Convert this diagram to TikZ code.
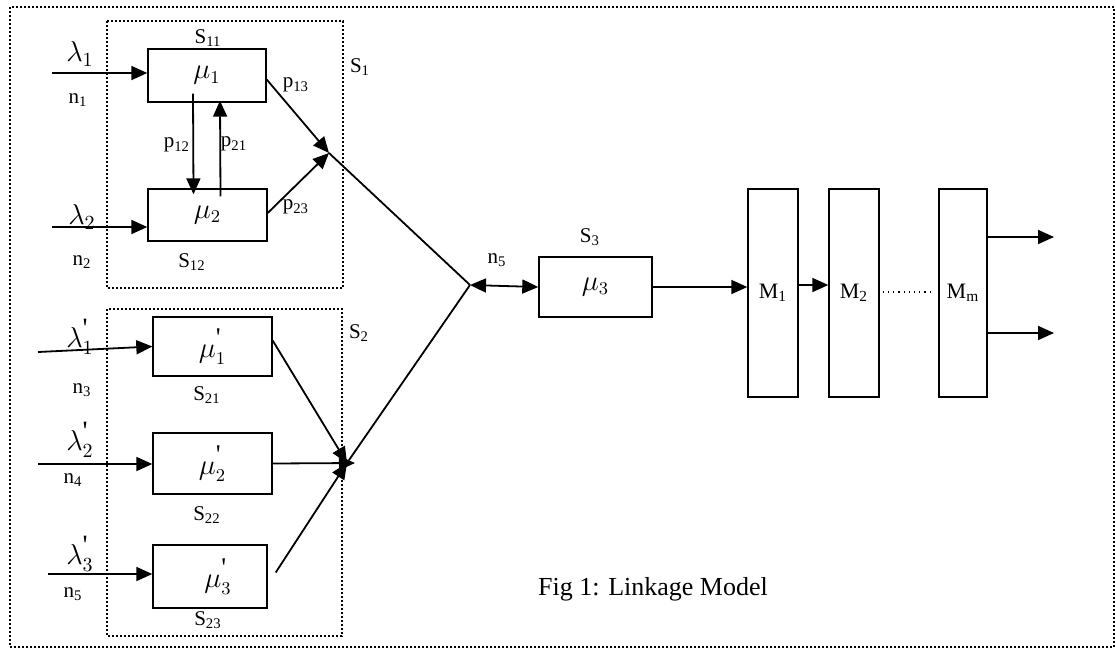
\documentclass[tikz,border=0pt]{standalone}
\usepackage{fontspec}
\setmainfont{Liberation Serif}
\usetikzlibrary{arrows.meta}

\newcommand{\tick}{^{\textrm{\textquotesingle}}}

\begin{document}
\begin{tikzpicture}[x=0.5pt, y=-0.5pt, font=\fontsize{10.5}{12}\selectfont,
  station/.style={draw, line width=0.7pt, inner sep=0pt, font=\fontsize{13.5}{15}\selectfont},
  machine/.style={draw, line width=0.7pt, inner sep=0pt, minimum width=25pt, minimum height=104pt, font=\fontsize{11}{12}\selectfont},
  region/.style={line width=1.2pt, dash pattern=on 1pt off 1pt},
  tip/.tip={Triangle[length=8pt, width=7pt]},
  flow/.style={line width=0.9pt, -{tip}},
  link/.style={line width=0.9pt},
  rate/.style={font=\fontsize{14}{15}\selectfont}]

\useasboundingbox (0,0) rectangle (1116,650);

% the plant and its two sub-systems
\draw[region] (10,7) rectangle (1114,647);
\draw[region] (107,21) rectangle (343,288);
\draw[region] (107,309) rectangle (342,636);

\node[anchor=west] (lS1) at (343,67)  {S\textsubscript{1}};
\node[anchor=west] (lS2) at (342,333) {S\textsubscript{2}};

% stations
\node[station, minimum width=59pt, minimum height=26.5pt] (s11) at (207,75.5)  {$\mu_1$};
\node[station, minimum width=59.5pt, minimum height=26pt] (s12) at (207.5,215) {$\mu_2$};
\node[station, minimum width=59.5pt, minimum height=29.5pt] (s21) at (212.5,346.5) {$\mu\tick_1$};
\node[station, minimum width=59.5pt, minimum height=30.5pt] (s22) at (212.5,463.5) {$\mu\tick_2$};
\node[station, minimum width=57pt, minimum height=31.5pt] (s23) at (210,576.5) {\hspace{8pt}$\mu\tick_3$};
\node[station, minimum width=56.5pt, minimum height=30pt] (mu3) at (595.5,287) {$\mu_3$};

\node (lS11) at (208,38)  {S\textsubscript{11}};
\node (lS12) at (192,262) {S\textsubscript{12}};
\node (lS21) at (207,395) {S\textsubscript{21}};
\node (lS22) at (207,515) {S\textsubscript{22}};
\node (lS23) at (208,620) {S\textsubscript{23}};
\node (lS3)  at (590,237) {S\textsubscript{3}};

% machines
\node[machine] (m1) at (773,293) {M\textsubscript{1}};
\node[machine] (m2) at (854,293) {M\textsubscript{2}};
\node[machine, minimum width=24pt] (mm) at (963,293) {M\textsubscript{m}};

% arrivals
\coordinate (in1) at (52,73);
\coordinate (in2) at (52,227);
\coordinate (in3) at (38,352);
\coordinate (in4) at (38,464);
\coordinate (in5) at (48,574);

\node[rate] (l1) at (80,54)  {$\lambda_1$};
\node[rate] (l2) at (82,217) {$\lambda_2$};
\node[rate] (l3) at (80,337) {$\lambda\tick_1$};
\node[rate] (l4) at (80,440) {$\lambda\tick_2$};
\node[rate] (l5) at (80,554) {$\lambda\tick_3$};

\node (n1) at (78,100) {n\textsubscript{1}};
\node (n2) at (82,262) {n\textsubscript{2}};
\node (n3) at (82,390) {n\textsubscript{3}};
\node (n4) at (73,480) {n\textsubscript{4}};
\node (n5) at (73,594) {n\textsubscript{5}};

\draw[flow] (in1) -- (in1 -| s11.west);
\draw[flow] (in2) -- (in2 -| s12.west);
\draw[flow] (in3) -- (s21.west);
\draw[flow] (in4) -- (in4 -| s22.west);
\draw[flow] (in5) -- (in5 -| s23.west);

% routing inside S1
\draw[flow] ([xshift=-7pt, yshift=4.5pt]s11.south) -- ([xshift=-7pt, yshift=-3pt]s12.north);
\draw[flow] ([xshift=6.5pt, yshift=-4pt]s12.north) -- ([xshift=6.5pt, yshift=1pt]s11.south);

\node (p12) at (177,145) {p\textsubscript{12}};
\node (p21) at (234,144) {p\textsubscript{21}};
\node (p13) at (296,85)  {p\textsubscript{13}};
\node (p23) at (296,207) {p\textsubscript{23}};

\coordinate (j1) at (329,153);
\coordinate (j2) at (347,463);
\coordinate (j)  at (470,285);

\draw[flow] ([yshift=-2pt]s11.east) -- (j1);
\draw[flow] ([yshift=1pt]s12.east) -- (j1);
\draw[link] (j1) -- (j);

% merging S2
\draw[flow] ([yshift=3pt]s21.east) -- (j2);
\draw[flow] (s22.east) -- ([xshift=4pt]j2);
\draw[flow] ([xshift=4pt, yshift=2pt]s23.east) -- (j2);
\draw[link] (j2) -- (j);

\node (ln5) at (497,260) {n\textsubscript{5}};
\draw[line width=0.9pt, {tip}-{tip}] (j) -- (mu3.west);

% line of machines
\draw[flow] (mu3.east) -- (mu3.east -| m1.west);
\draw[flow] ([yshift=4pt]m1.east) -- ([yshift=4pt]m2.west);
\draw[dotted, line width=0.6pt] ([xshift=1.5pt, yshift=0.5pt]m2.east) -- ([xshift=-3.5pt, yshift=0.5pt]mm.west);

\coordinate (out1) at (1054,237);
\coordinate (out2) at (1054,333);
\draw[flow] (out1 -| mm.east) -- (out1);
\draw[flow] (out2 -| mm.east) -- (out2);

\node[font=\fontsize{13}{15}\selectfont] (caption) at (653,589) {Fig 1: Linkage Model};

\end{tikzpicture}
\end{document}
